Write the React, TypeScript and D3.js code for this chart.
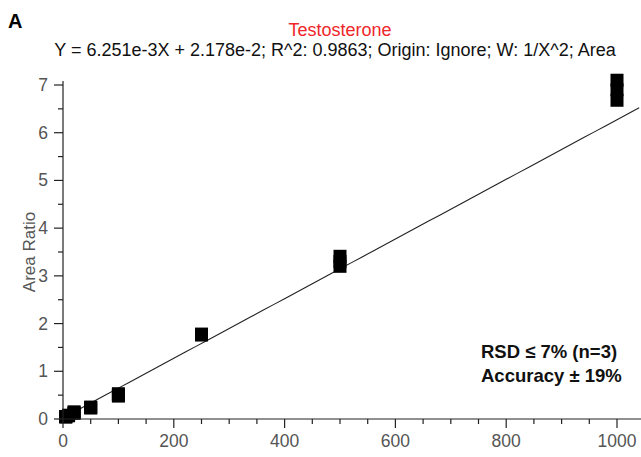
import React from "react";
import * as d3 from "d3";

// calibration levels and replicate area ratios (n=3)
const concentrations = [5, 10, 20, 50, 100, 250, 500, 1000];
const rep1 = [0.05, 0.08, 0.15, 0.25, 0.53, 1.78, 3.41, 7.1];
const rep2 = [0.05, 0.07, 0.13, 0.24, 0.5, 1.77, 3.3, 6.9];
const rep3 = [0.04, 0.07, 0.12, 0.23, 0.48, 1.76, 3.2, 6.68];

const xMajorTicks = [0, 200, 400, 600, 800, 1000];
const yMajorTicks = [0, 1, 2, 3, 4, 5, 6, 7];

const slope = 6.251e-3;
const intercept = 2.178e-2;

const W = 641;
const H = 457;
const font = "'Liberation Sans', Arial, Helvetica, sans-serif";

export default function App() {
  const x = d3.scaleLinear().domain([0, 1000]).range([63, 617]);
  const y = d3.scaleLinear().domain([0, 7]).range([419, 85]);
  const xEnd = x.invert(W);

  const xMinor = d3.range(0, xEnd, 50).filter((v) => v % 200 !== 0);
  const yMinor = d3.range(0.5, 7, 1);

  const points: [number, number][] = [];
  [rep1, rep2, rep3].forEach((rep) => {
    rep.forEach((v, i) => points.push([concentrations[i], v]));
  });

  const line = d3
    .line<number>()
    .x((d) => x(d))
    .y((d) => y(slope * d + intercept));
  const fitX = d3.range(0, xEnd + 1, 20);

  const size = 13;

  return (
    <svg
      width={W}
      height={H}
      style={{ position: "absolute", left: 0, top: 0, background: "#fff" }}
      fontFamily={font}
    >
      <text x={8} y={28} fontSize={20} fontWeight="bold" fill="#000">A</text>
      <text x={340} y={36} fontSize={18} fill="#f0262b" textAnchor="middle">Testosterone</text>
      <text x={335} y={56} fontSize={18} fill="#111" textAnchor="middle">
        Y = 6.251e-3X + 2.178e-2; R^2: 0.9863; Origin: Ignore; W: 1/X^2; Area
      </text>

      {/* fit line */}
      <path d={line(fitX) || ""} fill="none" stroke="#222" strokeWidth={1.1} />

      {/* markers */}
      {points.map((p, i) => (
        <rect
          key={i}
          x={x(p[0]) - size / 2}
          y={y(p[1]) - size / 2}
          width={size}
          height={size}
          fill="#000"
        />
      ))}

      {/* x axis */}
      <line x1={x(0)} x2={W} y1={y(0)} y2={y(0)} stroke="#222" strokeWidth={1.2} />
      {xMajorTicks.map((t) => (
        <g key={"xm" + t}>
          <line x1={x(t)} x2={x(t)} y1={y(0)} y2={y(0) + 9} stroke="#222" strokeWidth={1.2} />
          <text x={x(t)} y={y(0) + 28} fontSize={17.5} fill="#555" textAnchor="middle">{t}</text>
        </g>
      ))}
      {xMinor.map((t) => (
        <line key={"xn" + t} x1={x(t)} x2={x(t)} y1={y(0)} y2={y(0) + 5} stroke="#222" strokeWidth={1.2} />
      ))}

      {/* y axis */}
      <line x1={x(0)} x2={x(0)} y1={y(0)} y2={y(7) - 4} stroke="#222" strokeWidth={1.2} />
      {yMajorTicks.map((t) => (
        <g key={"ym" + t}>
          <line x1={x(0) - 9} x2={x(0)} y1={y(t)} y2={y(t)} stroke="#222" strokeWidth={1.2} />
          <text x={x(0) - 15} y={y(t) + 6} fontSize={17.5} fill="#555" textAnchor="end">{t}</text>
        </g>
      ))}
      {yMinor.map((t) => (
        <line key={"yn" + t} x1={x(0) - 5} x2={x(0)} y1={y(t)} y2={y(t)} stroke="#222" strokeWidth={1.2} />
      ))}
      <text
        transform={`translate(35, ${(y(0) + y(7)) / 2}) rotate(-90)`}
        fontSize={17}
        fill="#555"
        textAnchor="middle"
      >
        Area Ratio
      </text>

      <text x={481} y={358} fontSize={18.5} fontWeight="bold" fill="#111">RSD ≤ 7% (n=3)</text>
      <text x={481} y={382} fontSize={18.5} fontWeight="bold" fill="#111">Accuracy ± 19%</text>
    </svg>
  );
}
